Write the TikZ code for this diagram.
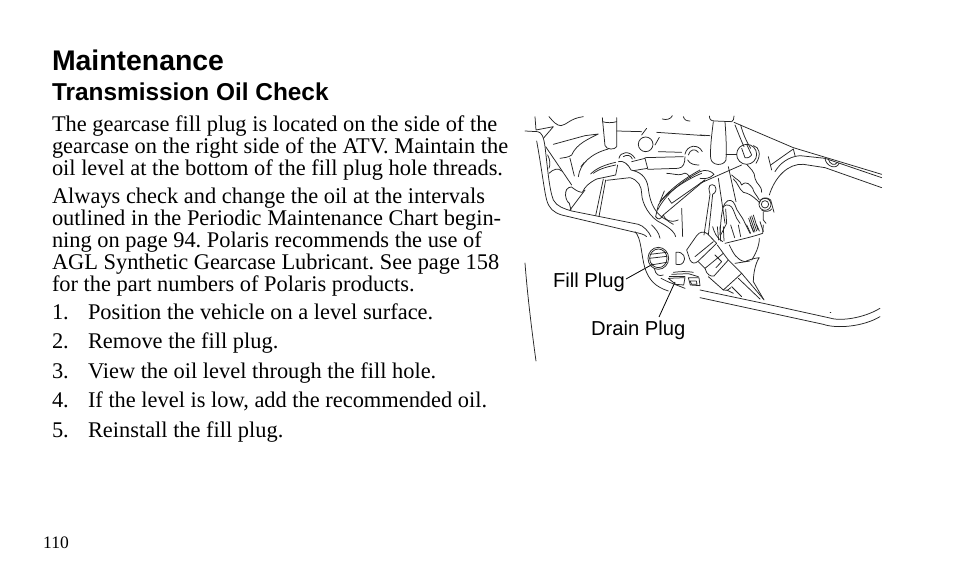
\documentclass[tikz,border=0pt]{standalone}
\usepackage{fontspec}
\setmainfont{Liberation Serif}
\newfontfamily\arialf{Liberation Sans}
\tikzset{
  body/.style={anchor=base west,inner sep=0pt,outer sep=0pt,font=\frenchspacing\fontsize{22.4}{22}\selectfont},
  head/.style={anchor=base west,inner sep=0pt,outer sep=0pt,font=\arialf\bfseries\fontsize{28.4}{30}\selectfont},
  subhead/.style={anchor=base west,inner sep=0pt,outer sep=0pt,font=\arialf\bfseries\fontsize{24.4}{25}\selectfont},
  callout/.style={anchor=base west,inner sep=0pt,outer sep=0pt,font=\arialf\fontsize{20.2}{22}\selectfont},
  ink/.style={line width=0.75pt,line cap=round,line join=round,black!85},
  leader/.style={line width=0.8pt,black},
}
\begin{document}
\begin{tikzpicture}[x=1pt,y=-1pt]
\useasboundingbox[fill=white] (0,0) rectangle (954,588);
\node[head] (t1) at (52,71) {Maintenance};
\node[subhead] (t2) at (52,100.5) {Transmission Oil Check};
\node[body] (a1) at (52,131.5) {The gearcase fill plug is located on the side of the};
\node[body] (a2) at (52,153.5) {gearcase on the right side of the ATV. Maintain the};
\node[body] (a3) at (52,175.5) {oil level at the bottom of the fill plug hole threads.};
\node[body] (b1) at (52,203.5) {Always check and change the oil at the intervals};
\node[body] (b2) at (52,225.5) {outlined in the Periodic Maintenance Chart begin-};
\node[body] (b3) at (52,247.5) {ning on page 94. Polaris recommends the use of};
\node[body] (b4) at (52,269.5) {AGL Synthetic Gearcase Lubricant. See page 158};
\node[body] (b5) at (52,291.5) {for the part numbers of Polaris products.};
\foreach \n/\y/\s in {1/319.5/{Position the vehicle on a level surface.},2/348.5/{Remove the fill plug.},3/378/{View the oil level through the fill hole.},4/407.5/{If the level is low, add the recommended oil.},5/437.5/{Reinstall the fill plug.}}{
  \node[body] (n\n) at (52,\y) {\n.};
  \node[body] (l\n) at (88,\y) {\s};
}
\node[anchor=base west,inner sep=0pt,font=\fontsize{17.5}{20}\selectfont] (pg) at (43,548) {110};
\node[callout] (fp) at (553,288) {Fill Plug};
\node[callout] (dp) at (591,335) {Drain Plug};
\coordinate (fpa) at (626,279);
\coordinate (fpb) at (653,264);
\coordinate (dpa) at (659,317);
\coordinate (dpb) at (675,282);
\draw[leader] (fpa) -- (fpb);
\draw[leader] (dpa) -- (dpb);
% left region
\begin{scope}[shift={(525,105)},x=0.3333pt,y=-0.3333pt,ink]
\draw (35,108) .. controls (50,190) and (58,260) .. (65,285) .. controls (72,310) and (85,322) .. (110,330) -- (330,382) .. controls (345,385) and (358,388) .. (365,395);
\draw (0,78) -- (38,80) .. controls (50,82) and (56,95) .. (60,125) .. controls (68,190) and (72,250) .. (85,285) .. controls (95,305) and (120,312) .. (140,318) -- (340,358) .. controls (355,362) and (372,380) .. (378,395);
\draw (30,35) -- (33,75) -- (85,65) -- (55,100);
\draw (72,35) .. controls (85,50) and (95,62) .. (108,62) .. controls (125,60) and (135,40) .. (175,35);
\draw (232,38) -- (240,122) .. controls (245,135) and (270,135) .. (275,125) -- (275,38);
\draw (232,50) .. controls (245,54) and (262,54) .. (275,50);
\draw (275,78) -- (350,80); \draw (395,82) -- (540,92);
\draw (362,118) circle (22);
\draw (350,90) -- (365,70); \draw (390,120) -- (403,97);
\draw (412,42) .. controls (425,46) and (438,42) .. (442,32);
\draw (475,35) .. controls (478,45) and (485,48) .. (495,48);
\draw (85,118) -- (180,92) -- (220,87) .. controls (195,100) and (155,115) .. (140,150) .. controls (130,158) and (115,158) .. (105,160);
\draw (135,160) -- (148,213);
\draw (160,215) .. controls (165,175) and (200,145) .. (250,132);
\draw (168,185) -- (178,172);
\draw (62,125) -- (140,240);
\draw (68,150) .. controls (76,165) and (76,180) .. (72,190);
\draw (72,205) .. controls (85,192) and (100,188) .. (110,198);
\draw (122,262) .. controls (122,250) and (140,240) .. (145,250) .. controls (155,258) and (165,262) .. (172,262) .. controls (180,245) and (190,235) .. (215,222) -- (272,210) -- (278,180);
\draw (122,262) .. controls (120,275) and (125,290) .. (133,295) -- (138,315);
\draw (135,315) -- (180,255);
\draw (197,207) .. controls (215,188) and (245,178) .. (272,172);
\draw (205,205) .. controls (225,190) and (250,185) .. (272,180);
\draw (235,222) -- (212,332); \draw (242,225) -- (222,335);
\draw (245,226) -- (315,218) .. controls (340,225) and (350,245) .. (350,265) .. controls (350,295) and (375,340) .. (410,355) .. controls (440,372) and (450,385) .. (452,395);
\draw (280,170) .. controls (295,165) and (310,178) .. (318,195) .. controls (340,200) and (365,210) .. (370,250) .. controls (375,300) and (395,330) .. (425,345) .. controls (430,350) and (440,355) .. (445,358);
\draw (282,160) .. controls (285,140) and (315,135) .. (330,160);
\draw (295,155) .. controls (305,148) and (318,150) .. (322,162);
\draw (320,170) -- (360,160) -- (368,190) -- (325,197);
\draw (360,158) -- (475,155);
\draw (368,193) -- (460,190) .. controls (475,188) and (480,175) .. (480,155);
\draw (400,140) -- (470,142);
\draw (480,148) .. controls (485,120) and (520,115) .. (532,140);
\draw (490,150) .. controls (495,132) and (512,130) .. (520,142);
\draw (488,165) .. controls (495,178) and (510,180) .. (522,180) ;
\draw (425,205) .. controls (440,205) and (460,212) .. (470,208) .. controls (485,198) and (490,212) .. (497,218);
\draw (392,335) -- (400,300) .. controls (420,265) and (470,225) .. (525,195);
\draw (398,315) .. controls (420,270) and (470,228) .. (525,200);
\draw (405,290) .. controls (430,262) and (480,225) .. (530,205);
\draw (392,335) .. controls (400,345) and (405,345) .. (415,330) -- (540,225);
\draw (415,330) .. controls (420,345) and (435,355) .. (460,345);
\draw (430,280) -- (440,295) -- (540,225);
\draw (470,310) -- (473,395);
\draw (418,258) -- (405,290);
\end{scope}
% right region
\begin{scope}[shift={(700,105)},x=0.3333pt,y=-0.3333pt,ink]
\draw (28,33) .. controls (28,45) and (35,48) .. (45,48) -- (95,50) .. controls (100,48) and (102,42) .. (102,33);
\draw (40,50) .. controls (35,90) and (30,130) .. (32,160) .. controls (35,182) and (70,185) .. (78,165) .. controls (80,130) and (78,90) .. (75,50);
\draw (0,90) -- (30,92);
\draw (78,147) -- (110,147);
\draw (102,52) -- (280,128) -- (545,208);
\draw (105,60) .. controls (115,85) and (125,110) .. (132,125);
\draw (122,60) .. controls (130,90) and (140,110) .. (152,130);
\draw (140,148) circle (30);
\draw (125,130) -- (135,158) .. controls (145,160) and (152,155) .. (155,150) -- (140,118);
\draw (0,235) -- (125,180);
\draw (140,178) .. controls (150,190) and (165,200) .. (165,220) .. controls (170,240) and (185,240) .. (185,262);
\draw (160,122) .. controls (178,125) and (185,150) .. (168,175);
\draw (205,155) -- (215,195);
\draw (212,180) -- (280,132) -- (285,152);
\draw (225,200) .. controls (240,175) and (265,155) .. (300,152) -- (375,160) ;
\draw (208,270) .. controls (225,215) and (265,175) .. (310,178) -- (375,188);
\draw (375,160) .. controls (378,185) and (410,195) .. (417,175);
\draw (384,160) .. controls (388,178) and (405,185) .. (412,172);
\draw (375,160) -- (545,218);
\draw (375,188) -- (545,248);
\draw (195,298) circle (18);
\draw (195,298) circle (11);
\draw (178,295) .. controls (180,280) and (195,272) .. (212,285) -- (222,322);
\draw (185,315) .. controls (195,322) and (210,320) .. (215,312);
\draw (95,210) .. controls (110,225) and (120,225) .. (125,240) .. controls (140,225) and (150,240) .. (158,250) .. controls (160,262) and (170,270) .. (178,285);
\draw (100,222) .. controls (115,235) and (115,250) .. (130,262) .. controls (145,265) and (155,270) .. (178,292);
\draw (0,200) .. controls (15,192) and (35,198) .. (42,208) .. controls (30,222) and (10,222) .. (0,220);
\draw (27,250) .. controls (25,235) and (48,235) .. (48,252) .. controls (48,262) and (40,268) .. (38,268) -- (25,390);
\draw (27,250) .. controls (27,262) and (32,268) .. (30,268) -- (12,390);
\draw (55,220) -- (75,355);
\draw (85,185) -- (108,290);
\draw (60,390) .. controls (62,350) and (65,310) .. (75,295) .. controls (85,280) and (100,285) .. (105,300) .. controls (110,320) and (125,330) .. (135,355) -- (150,385);
\draw (70,305) .. controls (80,295) and (95,300) .. (100,315) -- (110,340) -- (120,355);
\draw (77,312) -- (80,355) -- (62,390);
\draw (150,335) -- (165,380); \draw (155,333) -- (170,378); \draw (160,330) -- (174,375);\draw (146,340) -- (160,380);
\draw (190,320) -- (190,345) -- (198,355);
\draw (180,350) -- (190,380);
\end{scope}
% lower region
\begin{scope}[shift={(700,225)},x=0.3333pt,y=-0.3333pt,ink]
\draw (38,5) .. controls (42,20) and (50,40) .. (68,50);
\draw (70,5) -- (72,48) ; \draw (60,5) -- (62,48);\draw (52,5) -- (56,45);
\draw (92,0) -- (104,38); \draw (115,0) -- (122,35); \draw (140,0) -- (152,25); \draw (152,0) -- (162,22); \draw (170,0) -- (178,18);
\draw (75,55) .. controls (115,45) and (160,35) .. (188,25) -- (190,0);
\draw (88,60) .. controls (100,85) and (110,105) .. (135,110) .. controls (145,105) and (160,100) .. (178,98) .. controls (165,115) and (160,150) .. (160,170) -- (192,225);
\draw (178,40) .. controls (178,65) and (165,90) .. (155,105);
\draw (105,115) -- (150,108);
\draw (0,195) -- (190,235) -- (385,278) .. controls (420,290) and (490,280) .. (540,250);
\draw (0,218) -- (370,298) .. controls (410,312) and (490,305) .. (540,275);
\draw[line width=0.4pt] (390,262) -- (393,262);
\end{scope}
% filler cap and neck (crop origin 680,225)
\begin{scope}[shift={(680,225)},x=0.3333pt,y=-0.3333pt,ink]
\draw (20,75) -- (50,32) .. controls (58,20) and (72,18) .. (82,26) -- (110,55) -- (55,108) .. controls (45,118) and (35,115) .. (30,105) -- cycle;
\draw (45,95) -- (100,50);
\draw (55,110) -- (75,130) -- (130,85) -- (112,60);
\draw (75,130) .. controls (80,150) and (92,155) .. (102,153) -- (145,105) -- (130,85);
\draw (105,90) -- (125,110) -- (108,128);
\draw (85,155) -- (130,195) -- (185,145) -- (145,105);
\draw (130,195) .. controls (138,200) and (145,195) .. (152,188);
\draw (155,185) -- (185,215);
\draw (175,160) -- (240,222);
\draw (185,145) -- (250,222);
\draw (140,195) -- (160,205);
\end{scope}
% fill plug and drain plug (crop origin 635,225)
\begin{scope}[shift={(635,225)},x=0.3333pt,y=-0.3333pt,ink]
\draw (70,100) ellipse (31 and 33);
\draw (70,100) ellipse (26 and 28);
\draw (45,88) -- (95,82);
\draw (43,100) -- (96,94);
\draw (48,120) -- (95,112);
\draw (58,130) .. controls (62,150) and (72,155) .. (85,150);
\draw (0,20) .. controls (20,40) and (18,90) .. (30,130) .. controls (42,165) and (60,185) .. (100,198);
\draw (50,0) .. controls (60,10) and (72,22) .. (75,40);
\draw (123,82) .. controls (145,78) and (155,100) .. (145,112) .. controls (138,122) and (128,118) .. (123,118) -- cycle;
\draw (115,142) .. controls (135,140) and (150,138) .. (175,142);
\draw (110,148) -- (160,146) -- (190,155);
\draw (100,160) -- (150,158) -- (146,180) -- (122,178) -- cycle;
\draw (103,153) -- (150,153);
\draw (160,158) -- (192,158) -- (195,182) -- (166,180) -- cycle;
\draw (165,168) -- (184,168) -- (186,178) -- (170,178) -- cycle;
\draw (78,160) -- (98,170) -- (150,190);
\end{scope}
\coordinate (edgea) at (525,263);
\coordinate (edgeb) at (536,361);
\draw[ink] (edgea) .. controls (527,290) and (531,325) .. (edgeb);
\end{tikzpicture}
\end{document}
